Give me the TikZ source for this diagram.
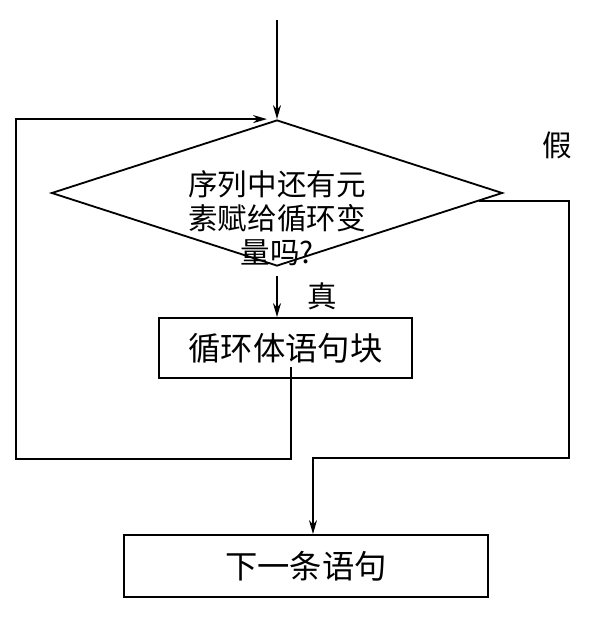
\documentclass[tikz,border=0pt]{standalone}
\usepackage{fontspec}
\newfontfamily\cjk{Noto Sans CJK SC}
\usetikzlibrary{positioning, arrows.meta, shapes.geometric, calc}

\begin{document}
\begin{tikzpicture}[node distance=3.875cm, auto]
    \tikzstyle{decision} = [diamond, draw, line width=1.3pt, minimum width=11.275cm, minimum height=3.65cm, inner sep=0pt]
    \tikzstyle{block} = [rectangle, draw, line width=1.3pt, font=\cjk\fontsize{23}{26}\selectfont, minimum height=1.5cm]
    \tikzstyle{tag} = [font=\cjk\fontsize{21}{24}\selectfont]
    \tikzstyle{arrow} = [line width=1.3pt, -{Stealth[length=3.5mm, width=2mm]}]

    \useasboundingbox (0,0) rectangle (14.9,-15.9);

    \node [decision] (cond) at (6.925,-4.825) {};
    \node [tag, align=center] (condtext) at ([yshift=-0.625cm]cond.center) {序列中还有元\\素赋给循环变\\量吗?};
    \node [block, minimum width=6.325cm, below of=cond, xshift=0.2125cm] (body) {循环体语句块};
    \node [block, minimum width=9.1cm, minimum height=1.55cm, below of=body, node distance=5.45cm, xshift=0.5125cm] (next) {下一条语句};
    \node [tag] (falselabel) at (13.925,-3.625) {假};

    \coordinate [above of=cond, node distance=4.325cm] (entry);
    \coordinate (bodyout) at ([xshift=0.1375cm, yshift=-0.475cm]body.center);
    \coordinate (loopbl) at (0.4,-11.475);
    \coordinate (looptl) at (loopbl |- cond.north);
    \coordinate (falseout) at ($(cond.east)!0.11!(cond.south)$);
    \coordinate (rightbot) at (14.225,-11.45);
    \coordinate (nextin) at ([xshift=0.175cm]next.north);

    \draw [arrow] (entry) -- (cond.north);
    \draw [arrow] ([yshift=-0.225cm]cond.south) -- (cond.south |- body.north) node [tag, midway, right, xshift=0.625cm] (truelabel) {真};
    \draw [arrow] (bodyout) |- (loopbl) -- (looptl) -- ([xshift=-0.25cm]cond.north);
    \draw [arrow] (falseout) -| (rightbot) -| (nextin);
\end{tikzpicture}
\end{document}
